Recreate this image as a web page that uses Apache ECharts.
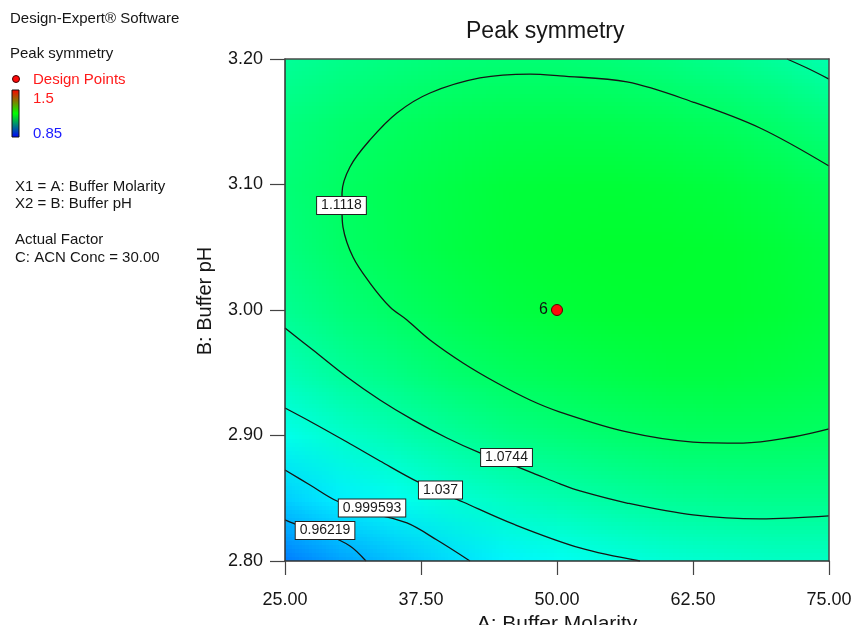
<!DOCTYPE html>
<html>
<head>
<meta charset="utf-8">
<title>Peak symmetry</title>
<script src="https://cdn.jsdelivr.net/npm/echarts@6/dist/echarts.min.js"></script>
<style>
  html, body { margin: 0; padding: 0; background: #ffffff; }
  #chart { width: 855px; height: 625px; }
</style>
</head>
<body>
<div id="chart"></div>
<script>
// ---- Data ---------------------------------------------------------------
// Factor levels of the response grid
const molarity = [25, 30, 35, 40, 45, 50, 55, 60, 65, 70, 75];
const bufferPH = [2.80, 2.85, 2.90, 2.95, 3.00, 3.05, 3.10, 3.15, 3.20];

// Predicted peak symmetry: one row per pH (2.80 -> 3.20), one column per molarity
const symmetryGrid = [
  [0.929, 0.952, 0.972, 0.990, 1.006, 1.019, 1.030, 1.038, 1.044, 1.048, 1.049],
  [0.982, 1.003, 1.021, 1.038, 1.051, 1.063, 1.072, 1.079, 1.083, 1.085, 1.085],
  [1.025, 1.044, 1.061, 1.075, 1.088, 1.098, 1.105, 1.110, 1.113, 1.113, 1.111],
  [1.058, 1.076, 1.091, 1.104, 1.114, 1.122, 1.128, 1.132, 1.133, 1.131, 1.127],
  [1.082, 1.097, 1.111, 1.122, 1.131, 1.138, 1.142, 1.143, 1.143, 1.140, 1.134],
  [1.095, 1.110, 1.122, 1.131, 1.138, 1.143, 1.145, 1.145, 1.143, 1.138, 1.131],
  [1.100, 1.112, 1.123, 1.130, 1.136, 1.139, 1.140, 1.138, 1.134, 1.127, 1.119],
  [1.094, 1.105, 1.114, 1.120, 1.124, 1.125, 1.124, 1.121, 1.115, 1.107, 1.096],
  [1.079, 1.088, 1.095, 1.100, 1.102, 1.102, 1.099, 1.094, 1.086, 1.077, 1.065]
];

// Contour levels and their traced paths [molarity, pH]
const contourLevels = [0.96219, 0.999593, 1.037, 1.0744, 1.1118];

const contour0962 = [[25, 2.8327], [26.38, 2.8279], [28.68, 2.8215], [30.97, 2.8120], [32.44, 2.80]];
const contour0996 = [[25, 2.8725], [27.30, 2.8606], [29.78, 2.8478], [33.0, 2.8382], [36.21, 2.8303], [38.97, 2.8167], [42.0, 2.80]];
const contour1037 = [[25, 2.9219], [27.57, 2.9100], [30.70, 2.8948], [33.73, 2.8797], [37.22, 2.8630], [41.36, 2.8470], [45.96, 2.8295], [52.11, 2.8104], [57.63, 2.80]];
const contour1074 = [[25, 2.9857], [27.57, 2.9681], [30.70, 2.9466], [33.73, 2.9283], [36.76, 2.9124], [39.89, 2.8980], [42.92, 2.8861], [45.40, 2.8781], [47.79, 2.8701], [50.28, 2.8614], [52.11, 2.8558], [56.43, 2.8462], [62.50, 2.8367], [68.66, 2.8335], [75, 2.8359]];
const contour1074Corner = [[71.14, 3.20], [72.98, 3.1928], [75, 3.184]];
const contour1112 = [[75, 3.1147], [68.66, 3.1450], [62.50, 3.1657], [56.43, 3.1817], [50.28, 3.1865], [47.52, 3.1880], [42.92, 3.1849], [38.33, 3.1729], [35.29, 3.1570], [32.81, 3.1355], [30.97, 3.1140], [30.24, 3.0932], [30.24, 3.0797], [30.33, 3.0661], [31.25, 3.0422], [32.81, 3.0215], [34.65, 3.0024], [36.21, 2.9920], [38.33, 2.9761], [41.36, 2.9578], [44.49, 2.9418], [47.52, 2.9283], [50.28, 2.9187], [56.43, 2.9028], [62.50, 2.8948], [67.10, 2.8940], [71.69, 2.8988], [75, 2.9052]];

// Where each level's value tag sits on its line [molarity, pH]
const contourTagPositions = [[28.68, 2.8243], [33.0, 2.8422], [39.29, 2.8566], [45.36, 2.8825], [30.19, 3.0833]];

// Design points [molarity, pH, replicate count]
const designPoints = [[50, 3.00, 6]];

// Axis ticks
const xTicks = { min: 25, max: 75, step: 12.5 };
const yTicks = { min: 2.80, max: 3.20, step: 0.10 };

// Colour scale of the response
const colorMin = 0.85, colorMax = 1.5;
const paletteStops = [
  [0.00, [0, 0, 255]],
  [0.25, [0, 255, 255]],
  [0.50, [0, 255, 0]],
  [0.75, [255, 255, 0]],
  [1.00, [255, 0, 0]]
];

// ---- Helpers -------------------------------------------------------------
const FONT = '"Liberation Sans", Arial, Helvetica, sans-serif';

function colorOf(v) {
  let t = (v - colorMin) / (colorMax - colorMin);
  t = Math.max(0, Math.min(1, t));
  for (let i = 1; i < paletteStops.length; i++) {
    const a = paletteStops[i - 1], b = paletteStops[i];
    if (t <= b[0]) {
      const f = (t - a[0]) / (b[0] - a[0]);
      return a[1].map((c, k) => Math.round(c + (b[1][k] - c) * f));
    }
  }
  return paletteStops[paletteStops.length - 1][1];
}

// One pixel per grid node; the browser's smoothing shades between nodes
const nCols = molarity.length, nRows = bufferPH.length;
const fieldCanvas = document.createElement('canvas');
fieldCanvas.width = nCols;
fieldCanvas.height = nRows;
(function paintField() {
  const ctx = fieldCanvas.getContext('2d');
  const img = ctx.createImageData(nCols, nRows);
  for (let r = 0; r < nRows; r++) {
    for (let c = 0; c < nCols; c++) {
      const rgb = colorOf(symmetryGrid[r][c]);
      const py = nRows - 1 - r;               // top row = highest pH
      const o = (py * nCols + c) * 4;
      img.data[o] = rgb[0]; img.data[o + 1] = rgb[1]; img.data[o + 2] = rgb[2]; img.data[o + 3] = 255;
    }
  }
  ctx.putImageData(img, 0, 0);
})();

function contourSeries(name, data) {
  return {
    name: name,
    type: 'line',
    data: data,
    smooth: 0.35,
    symbol: 'none',
    silent: true,
    z: 3,
    lineStyle: { color: '#151515', width: 1.3 },
    clip: true
  };
}

// ---- Chart ---------------------------------------------------------------
const chart = echarts.init(document.getElementById('chart'), null, { renderer: 'canvas' });

const textColor = '#161616';

const option = {
  backgroundColor: '#ffffff',
  animation: false,
  title: {
    text: 'Peak symmetry',
    left: 461,
    top: 15,
    textStyle: { fontFamily: FONT, fontSize: 23, fontWeight: 'normal', color: textColor }
  },
  grid: {
    left: 285, right: 26, top: 59, bottom: 64,
    outerBoundsMode: 'none',
    containLabel: false
  },
  xAxis: [{
    type: 'value',
    min: xTicks.min, max: xTicks.max, interval: xTicks.step,
    position: 'bottom',
    z: 5,
    name: 'A: Buffer Molarity',
    nameLocation: 'middle',
    nameGap: 39,
    nameTextStyle: { fontFamily: FONT, fontSize: 21, color: textColor },
    axisLine: { show: true, onZero: false, lineStyle: { color: '#333', width: 1.5 } },
    axisTick: { show: true, inside: false, length: 14, lineStyle: { color: '#444', width: 1.2 } },
    axisLabel: { margin: 30, fontFamily: FONT, fontSize: 18, color: textColor,
                 formatter: v => v.toFixed(2) },
    splitLine: { show: false }
  }, {
    type: 'value',
    min: xTicks.min, max: xTicks.max, interval: xTicks.step,
    position: 'top',
    z: 5,
    axisLine: { show: true, onZero: false, lineStyle: { color: '#4a4a4a', width: 1.5 } },
    axisTick: { show: false }, axisLabel: { show: false }, splitLine: { show: false }
  }],
  yAxis: [{
    type: 'value',
    min: yTicks.min, max: yTicks.max, interval: yTicks.step,
    position: 'left',
    z: 5,
    name: 'B: Buffer pH',
    nameLocation: 'middle',
    nameGap: 70,
    nameTextStyle: { fontFamily: FONT, fontSize: 20, color: textColor, padding: [0, 0, 0, 18] },
    axisLine: { show: true, onZero: false, lineStyle: { color: '#333', width: 1.5 } },
    axisTick: { show: true, inside: false, length: 15, lineStyle: { color: '#444', width: 1.2 } },
    axisLabel: { margin: 22, fontFamily: FONT, fontSize: 18, color: textColor,
                 formatter: v => v.toFixed(2) },
    splitLine: { show: false }
  }, {
    type: 'value',
    min: yTicks.min, max: yTicks.max, interval: yTicks.step,
    position: 'right',
    z: 5,
    axisLine: { show: true, onZero: false, lineStyle: { color: '#4a4a4a', width: 1.5 } },
    axisTick: { show: false }, axisLabel: { show: false }, splitLine: { show: false }
  }],
  series: [
    {
      name: 'Peak symmetry surface',
      type: 'custom',
      silent: true,
      clip: true,
      z: 1,
      data: [[molarity[0], bufferPH[0], molarity[nCols - 1], bufferPH[nRows - 1]]],
      renderItem: function (params, api) {
        const topLeft = api.coord([api.value(0), api.value(3)]);
        const bottomRight = api.coord([api.value(2), api.value(1)]);
        return {
          type: 'image',
          style: {
            image: fieldCanvas,
            x: topLeft[0], y: topLeft[1],
            width: bottomRight[0] - topLeft[0],
            height: bottomRight[1] - topLeft[1],
            sx: 0.5, sy: 0.5, sWidth: nCols - 1, sHeight: nRows - 1
          }
        };
      }
    },
    contourSeries(String(contourLevels[0]), contour0962),
    contourSeries(String(contourLevels[1]), contour0996),
    contourSeries(String(contourLevels[2]), contour1037),
    contourSeries(String(contourLevels[3]), contour1074),
    contourSeries(String(contourLevels[3]) + ' ', contour1074Corner),
    contourSeries(String(contourLevels[4]), contour1112),
    {
      name: 'Contour values',
      type: 'scatter',
      silent: true,
      z: 6,
      symbol: 'rect',
      symbolSize: 1,
      itemStyle: { color: 'rgba(255,255,255,0)', opacity: 1 },
      data: contourTagPositions.map((p, i) => [p[0], p[1], contourLevels[i]]),
      label: {
        show: true,
        position: 'inside',
        formatter: p => String(p.value[2]),
        fontFamily: FONT,
        fontSize: 14,
        color: '#1a1a1a',
        backgroundColor: '#ffffff',
        borderColor: '#222222',
        borderWidth: 1,
        padding: [2, 4, 1, 4]
      }
    },
    {
      name: 'Design Points',
      type: 'scatter',
      silent: true,
      z: 7,
      symbol: 'circle',
      symbolSize: 11,
      itemStyle: { color: '#ff0a0a', borderColor: '#5a0000', borderWidth: 1, opacity: 1 },
      data: designPoints,
      label: {
        show: true,
        position: 'left',
        distance: 3,
        formatter: p => String(p.value[2]),
        fontFamily: FONT,
        fontSize: 16,
        color: '#111111'
      }
    }
  ],
  graphic: [
    { type: 'text', left: 10, top: 11, style: { text: 'Design-Expert® Software', font: '15px ' + FONT, fill: textColor } },
    { type: 'text', left: 10, top: 46, style: { text: 'Peak symmetry', font: '15px ' + FONT, fill: textColor } },
    { type: 'circle', shape: { cx: 16, cy: 79, r: 3.5 }, style: { fill: '#ff0a0a', stroke: '#400000', lineWidth: 1 } },
    { type: 'text', left: 33, top: 72, style: { text: 'Design Points', font: '15px ' + FONT, fill: '#ff1a1a' } },
    {
      type: 'rect',
      shape: { x: 12, y: 90, width: 7, height: 47 },
      style: {
        fill: new echarts.graphic.LinearGradient(0, 0, 0, 1, [
          { offset: 0, color: '#ff0000' },
          { offset: 0.5, color: '#00ff00' },
          { offset: 1, color: '#0000ff' }
        ]),
        stroke: '#111111',
        lineWidth: 1
      }
    },
    { type: 'text', left: 33, top: 91, style: { text: String(colorMax), font: '15px ' + FONT, fill: '#ff1a1a' } },
    { type: 'text', left: 33, top: 126, style: { text: String(colorMin), font: '15px ' + FONT, fill: '#1a1aff' } },
    { type: 'text', left: 15, top: 179, style: { text: 'X1 = A: Buffer Molarity', font: '15px ' + FONT, fill: textColor } },
    { type: 'text', left: 15, top: 196, style: { text: 'X2 = B: Buffer pH', font: '15px ' + FONT, fill: textColor } },
    { type: 'text', left: 15, top: 232, style: { text: 'Actual Factor', font: '15px ' + FONT, fill: textColor } },
    { type: 'text', left: 15, top: 250, style: { text: 'C: ACN Conc = 30.00', font: '15px ' + FONT, fill: textColor } }
  ]
};

chart.setOption(option);
</script>
</body>
</html>
